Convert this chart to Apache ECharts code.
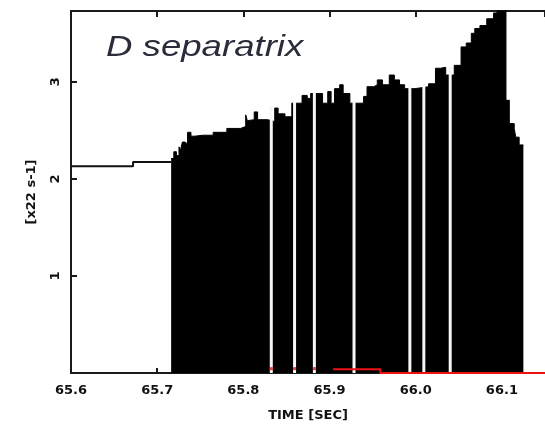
<!DOCTYPE html>
<html>
<head>
<meta charset="utf-8">
<script src="https://cdn.jsdelivr.net/npm/echarts@6/dist/echarts.min.js"></script>
<style>
  html, body { margin: 0; padding: 0; background: #ffffff; }
  #chart { width: 545px; height: 429px; }
</style>
</head>
<body>
<div id="chart"></div>
<script>
// ---- data ----
const titleText = 'D separatrix';
const xAxisName = 'TIME [SEC]';
const yAxisName = '[x22 s-1]';
const xTickLabels = ['65.6', '65.7', '65.8', '65.9', '66.0', '66.1'];
const yTickLabels = ['1', '2', '3'];

// flat trace before the black region
const preTimes  = [65.600, 65.672, 65.716];
const preValues = [2.13, 2.175, 2.175];

// envelope of the black filled region (step, value holds to the right)
const sepTimes = [
  65.7162, 65.7193, 65.7223, 65.7253, 65.7272, 65.7292, 65.7322, 65.7352, 65.7392, 65.7432,
  65.7531, 65.7650, 65.7808, 65.7967, 65.8027, 65.8046, 65.8066, 65.8126, 65.8165, 65.8284,
  65.8364, 65.8403, 65.8483, 65.8562, 65.8642, 65.8681, 65.8741, 65.8781, 65.8880, 65.8919,
  65.8979, 65.9018, 65.9058, 65.9118, 65.9158, 65.9236, 65.9316, 65.9395, 65.9435, 65.9515,
  65.9554, 65.9614, 65.9693, 65.9752, 65.9812, 65.9871, 65.9991, 66.0149, 66.0229, 66.0288,
  66.0348, 66.0447, 66.0526, 66.0586, 66.0645, 66.0685, 66.0745, 66.0824, 66.0903, 66.0943,
  66.1047, 66.1086, 66.1143, 66.1161, 66.1200, 66.1249
];
const sepValues = [
  2.21, 2.28, 2.24, 2.33, 2.30, 2.38, 2.36, 2.48, 2.44, 2.45,
  2.45, 2.48, 2.52, 2.54, 2.66, 2.60, 2.61, 2.69, 2.61, 2.59,
  2.73, 2.67, 2.64, 2.78, 2.78, 2.86, 2.83, 2.88, 2.88, 2.78,
  2.90, 2.78, 2.93, 2.97, 2.88, 2.78, 2.78, 2.85, 2.95, 2.97,
  3.02, 2.97, 3.07, 3.02, 2.97, 2.93, 2.95, 2.98, 3.14, 3.15,
  3.07, 3.17, 3.36, 3.40, 3.50, 3.55, 3.58, 3.65, 3.71, 3.76,
  2.81, 2.57, 2.52, 2.43, 2.35, 2.35
];

// thin white gaps inside the black region
const gapTimes = [65.8324, 65.8594, 65.8824, 65.9284, 65.9932, 66.0094, 66.0400];
const gapTops  = [2.75, 2.80, 2.90, 2.80, 2.97, 2.98, 3.15];

// red trace near zero
const redTimes  = [65.904, 65.959, 65.959, 66.150];
const redValues = [0.038, 0.038, 0.0, 0.0];
const redDotTimes  = [65.8324, 65.8594, 65.8824];
const redDotValues = [0.045, 0.045, 0.045];

// ---- chart ----
const zip = (a, b) => a.map((v, i) => [v, b[i]]);
const axisColor = '#1a1a1a';
const labelFont = { fontFamily: 'DejaVu Sans', fontWeight: 'bold', fontSize: 13, color: '#111' };

const chart = echarts.init(document.getElementById('chart'), null, { renderer: 'canvas' });
chart.setOption({
  animation: false,
  backgroundColor: '#ffffff',
  grid: { left: 71, top: 11, right: -8, bottom: 56, containLabel: false },
  graphic: [{
    type: 'text',
    left: 106, top: 33,
    scaleX: 1.22,
    style: {
      text: titleText,
      fontStyle: 'italic',
      fontSize: 30,
      fontFamily: 'Liberation Sans',
      fill: '#2a2c3a'
    },
    z: 100
  }],
  xAxis: [{
    type: 'value', min: 65.6, max: 66.15, interval: 0.1,
    position: 'bottom',
    name: xAxisName, nameLocation: 'middle', nameGap: 36,
    nameTextStyle: Object.assign({}, labelFont, { fontSize: 13 }),
    axisLine: { show: true, onZero: false, lineStyle: { color: axisColor, width: 2 } },
    axisTick: { show: true, inside: true, length: 5, lineStyle: { color: axisColor, width: 2 } },
    axisLabel: Object.assign({}, labelFont, {
      margin: 11, showMaxLabel: false,
      formatter: v => {
        const i = Math.round((v - 65.6) / 0.1);
        return (i >= 0 && i < xTickLabels.length) ? xTickLabels[i] : '';
      }
    }),
    splitLine: { show: false }
  }, {
    type: 'value', min: 65.6, max: 66.15, interval: 0.1,
    position: 'top',
    axisLine: { show: true, onZero: false, lineStyle: { color: axisColor, width: 2 } },
    axisTick: { show: true, inside: true, length: 6, lineStyle: { color: axisColor, width: 2 } },
    axisLabel: { show: false },
    splitLine: { show: false }
  }],
  yAxis: [{
    type: 'value', min: 0, max: 3.73, interval: 1,
    name: yAxisName, nameLocation: 'middle', nameGap: 33, nameRotate: 90,
    nameTextStyle: Object.assign({}, labelFont, { fontSize: 13 }),
    axisLine: { show: true, onZero: false, lineStyle: { color: axisColor, width: 2 } },
    axisTick: { show: true, inside: true, length: 6, lineStyle: { color: axisColor, width: 2 } },
    axisLabel: Object.assign({}, labelFont, {
      rotate: 90, margin: 9, showMinLabel: false, showMaxLabel: false,
      formatter: v => {
        const i = Math.round(v) - 1;
        return (Math.abs(v - Math.round(v)) < 1e-6 && i >= 0 && i < yTickLabels.length) ? yTickLabels[i] : '';
      }
    }),
    splitLine: { show: false }
  }],
  series: [
    {
      type: 'line', name: 'pre', data: zip(preTimes, preValues),
      step: 'end', symbol: 'none', z: 2,
      lineStyle: { color: '#111', width: 2 }
    },
    {
      type: 'line', name: 'separatrix', data: zip(sepTimes, sepValues),
      step: 'end', symbol: 'none', z: 2,
      lineStyle: { color: '#000', width: 1 },
      areaStyle: { color: '#000', opacity: 1, origin: 'start' }
    },
    {
      type: 'bar', name: 'gaps', data: zip(gapTimes, gapTops),
      barWidth: 3, z: 3, itemStyle: { color: '#f6f6f6' }
    },
    {
      type: 'line', name: 'red', data: zip(redTimes, redValues),
      symbol: 'none', z: 5, clip: false,
      lineStyle: { color: '#ee1111', width: 2 }
    },
    {
      type: 'scatter', name: 'reddots', data: zip(redDotTimes, redDotValues),
      symbol: 'rect', symbolSize: [3, 3], z: 6,
      itemStyle: { color: '#ee1111' }
    }
  ]
});
</script>
</body>
</html>
